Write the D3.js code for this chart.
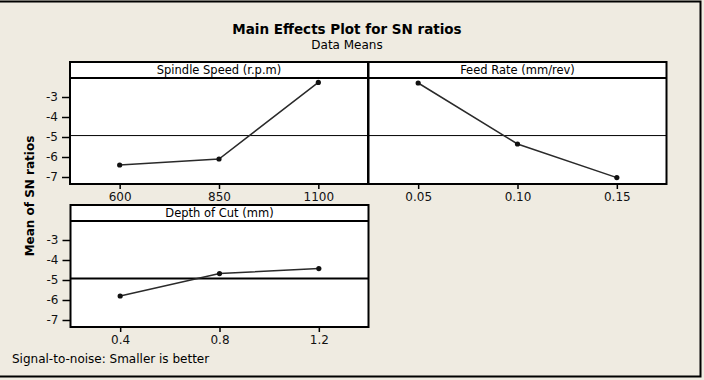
<!DOCTYPE html>
<html>
<head>
<meta charset="utf-8">
<script src="https://cdn.jsdelivr.net/npm/d3@7"></script>
<style>
  body { margin: 0; background: #efebe1; }
  svg { display: block; font-family: "DejaVu Sans", Verdana, sans-serif; }
</style>
</head>
<body>
<div id="chart"></div>
<script>
// data
const spindleLevels = ["600", "850", "1100"]
const spindleSN = [-6.4, -6.1, -2.27]
const feedLevels = ["0.05", "0.10", "0.15"]
const feedSN = [-2.3, -5.35, -7.03]
const depthLevels = ["0.4", "0.8", "1.2"]
const depthSN = [-5.8, -4.68, -4.43]
const yTicks = [-3, -4, -5, -6, -7]

const width = 704
const height = 380
const panelW = 298
const stripH = 16
const yDomain = [-7.35, -2.05]

// grand mean of all SN ratios, used for the reference line
const allSN = spindleSN.concat(feedSN, depthSN)
const grandMean = d3.mean(allSN)

const svg = d3.select("#chart")
  .append("svg")
  .attr("width", width)
  .attr("height", height)

svg.append("rect")
  .attr("width", width)
  .attr("height", height)
  .attr("fill", "#efebe1")

// outer frame (top, right, bottom)
svg.append("path")
  .attr("d", "M0,1.5H700.5V376.5H0")
  .attr("fill", "none")
  .attr("stroke", "#000")
  .attr("stroke-width", 2)

// titles
svg.append("text")
  .attr("x", 347)
  .attr("y", 34)
  .attr("text-anchor", "middle")
  .style("font-size", "13.5px")
  .style("font-weight", "bold")
  .text("Main Effects Plot for SN ratios")

svg.append("text")
  .attr("x", 347)
  .attr("y", 49)
  .attr("text-anchor", "middle")
  .style("font-size", "12px")
  .text("Data Means")

svg.append("text")
  .attr("transform", "translate(34,196) rotate(-90)")
  .attr("text-anchor", "middle")
  .style("font-size", "12px")
  .style("font-weight", "bold")
  .text("Mean of SN ratios")

svg.append("text")
  .attr("x", 12)
  .attr("y", 363)
  .style("font-size", "12px")
  .text("Signal-to-noise: Smaller is better")

// draw one panel of the main effects plot
function drawPanel(left, top, title, levels, values, showY, refWidth) {
  const plotTop = top + stripH
  const plotBottom = top + 122

  const x = d3.scalePoint()
    .domain(levels)
    .range([left, left + panelW])
    .padding(0.5)

  const y = d3.scaleLinear()
    .domain(yDomain)
    .range([plotBottom, plotTop])

  const g = svg.append("g")

  // plot area
  g.append("rect")
    .attr("x", left)
    .attr("y", top)
    .attr("width", panelW)
    .attr("height", plotBottom - top)
    .attr("fill", "#fff")

  // reference line at the mean
  g.append("line")
    .attr("x1", left)
    .attr("x2", left + panelW)
    .attr("y1", y(grandMean))
    .attr("y2", y(grandMean))
    .attr("stroke", "#000")
    .attr("stroke-width", refWidth)

  // x axis
  g.append("g")
    .attr("transform", "translate(0," + plotBottom + ")")
    .call(d3.axisBottom(x).tickSize(5).tickPadding(3))
    .call(a => a.select(".domain").remove())
    .call(a => a.selectAll("line").attr("stroke-width", 1.5))
    .selectAll("text")
      .style("font-size", "12px")
      .style("font-family", "DejaVu Sans, sans-serif")
      .attr("fill", "#111")

  // y axis
  if (showY) {
    g.append("g")
      .attr("transform", "translate(" + left + ",0)")
      .call(d3.axisLeft(y).tickValues(yTicks).tickFormat(d => String(d)).tickSize(8).tickPadding(4))
      .call(a => a.select(".domain").remove())
      .call(a => a.selectAll("line").attr("stroke-width", 1.5))
      .selectAll("text")
        .style("font-size", "12px")
        .style("font-family", "DejaVu Sans, sans-serif")
        .attr("fill", "#111")
  }

  // data line and points
  const pts = levels.map((l, i) => [x(l), y(values[i])])
  g.append("path")
    .attr("d", d3.line()(pts))
    .attr("fill", "none")
    .attr("stroke", "#2a2a2a")
    .attr("stroke-width", 1.5)

  g.selectAll("circle")
    .data(pts)
    .enter()
    .append("circle")
    .attr("cx", d => d[0])
    .attr("cy", d => d[1])
    .attr("r", 2.6)
    .attr("fill", "#111")

  // strip with the factor name
  g.append("line")
    .attr("x1", left)
    .attr("x2", left + panelW)
    .attr("y1", plotTop)
    .attr("y2", plotTop)
    .attr("stroke", "#000")
    .attr("stroke-width", 2)

  g.append("text")
    .attr("x", left + panelW / 2)
    .attr("y", top + 12)
    .attr("text-anchor", "middle")
    .style("font-size", "11.5px")
    .text(title)

  // panel border
  g.append("rect")
    .attr("x", left)
    .attr("y", top)
    .attr("width", panelW)
    .attr("height", plotBottom - top)
    .attr("fill", "none")
    .attr("stroke", "#000")
    .attr("stroke-width", 2)
}

drawPanel(70, 62, "Spindle Speed (r.p.m)", spindleLevels, spindleSN, true, 1)
drawPanel(368.5, 62, "Feed Rate (mm/rev)", feedLevels, feedSN, false, 1)
drawPanel(70.5, 205, "Depth of Cut (mm)", depthLevels, depthSN, true, 2)
</script>
</body>
</html>
